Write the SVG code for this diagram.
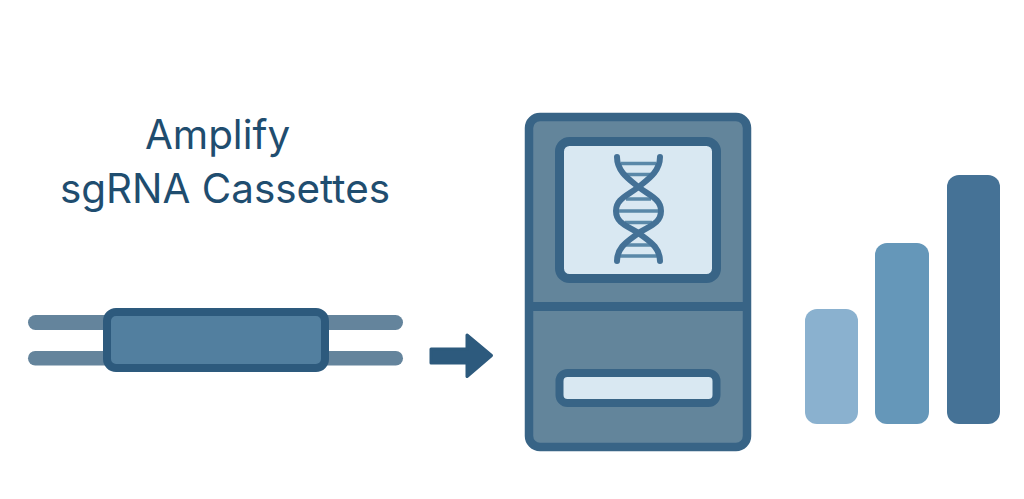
<svg xmlns="http://www.w3.org/2000/svg" width="1024" height="499" viewBox="0 0 1024 499">
<style>
.t{font-family:Inter,"Liberation Sans",sans-serif;font-size:40.400px;fill:#1f4d6f;text-anchor:middle}
.wire{fill:#64849c}
.screen{fill:#d9e8f2;stroke:#386486;stroke-width:9}
.strand{fill:none;stroke:#447196;stroke-width:6;stroke-linecap:round}
.rung{stroke:#5a88a8;stroke-width:3.500}
</style>
<rect width="1024" height="499" fill="#fff"/>
<g id="title"><text class="t" x="217.500" y="149">Amplify</text><text class="t" x="225" y="203">sgRNA Cassettes</text></g>
<g id="cassette">
<rect class="wire" x="28" y="315" width="375" height="15" rx="7.500"/>
<rect class="wire" x="28" y="351" width="375" height="14.500" rx="7.200"/>
<rect x="107" y="312" width="218" height="56" rx="9" fill="#527f9f" stroke="#2d5a7d" stroke-width="8"/>
</g>
<g id="connectors"><path d="M431 349H467V335L491.500 355.500L467 376.500V363H431Z" fill="#2d5a7d" stroke="#2d5a7d" stroke-width="3" stroke-linejoin="round"/></g>
<g id="machine">
<rect x="529" y="117" width="218" height="330" rx="11" fill="#63859b" stroke="#386486" stroke-width="8.500"/>
<path d="M529 306.500H747" stroke="#386486" stroke-width="9"/>
<rect class="screen" x="559.500" y="141.500" width="157" height="137" rx="10"/>
<rect x="559.500" y="373" width="157" height="30" rx="8" fill="#d9e8f2" stroke="#386486" stroke-width="8"/>
</g>
<g id="dna">
<path class="rung" d="M621 163.500H656M625 174.500H652M626 199H651M619 211H658M625 222.500H652M626 245H651M620 256H657"/>
<path class="strand" d="M617 157C617 172 630 180 638.500 187C650 196 661 199 661 211C661 223 650 226 638.500 233C630 240 617 246 617 261"/>
<path class="strand" d="M660 157C660 172 647 180 638.500 187C627 196 616 199 616 211C616 223 627 226 638.500 233C647 240 660 246 660 261"/>
</g>
<g id="bars">
<rect x="805" y="309" width="53" height="115" rx="12" fill="#8ab1cf"/>
<rect x="875" y="243" width="54" height="181" rx="12" fill="#6597b9"/>
<rect x="947" y="175" width="53" height="249" rx="12" fill="#457296"/>
</g>
</svg>
